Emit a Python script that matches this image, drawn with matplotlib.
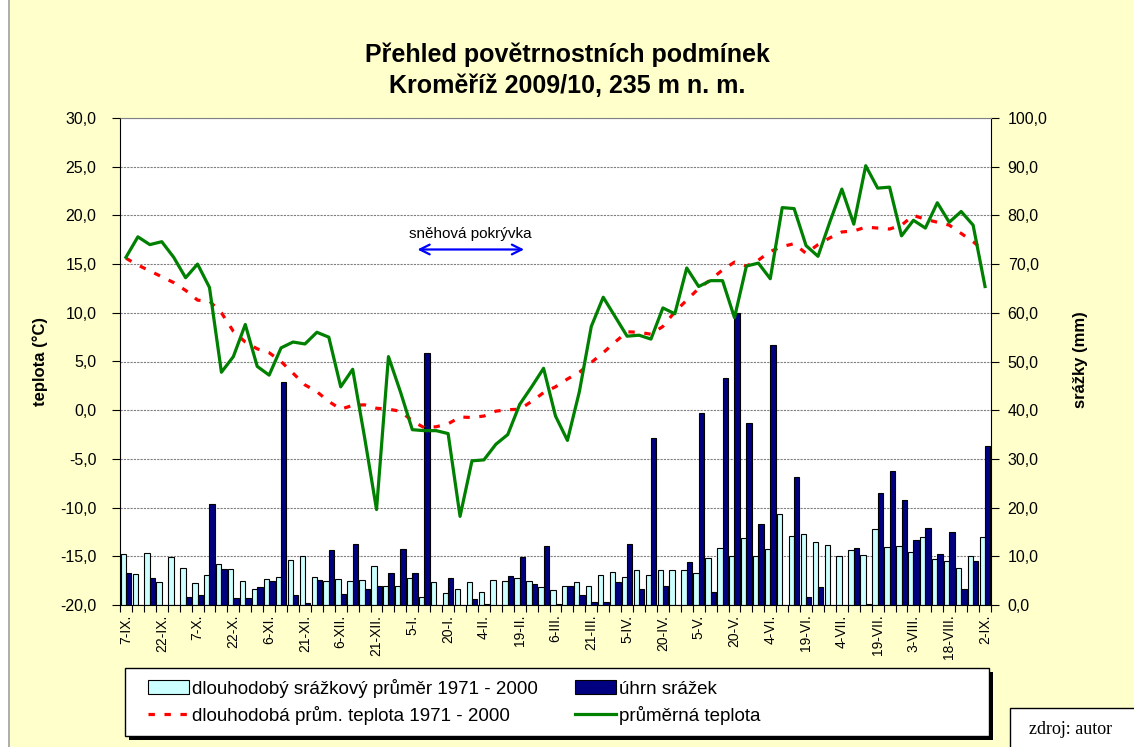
import numpy as np
import matplotlib
matplotlib.use('Agg')
import matplotlib.pyplot as plt
from matplotlib.patches import Rectangle, Patch
from matplotlib.lines import Line2D
from matplotlib.ticker import FixedLocator, FuncFormatter

plt.rcParams['font.family'] = ['Liberation Sans', 'DejaVu Sans']

# pentad labels (every third pentad is labelled)
tick_labels = ['7-IX.', '22-IX.', '7-X.', '22-X.', '6-XI.', '21-XI.', '6-XII.', '21-XII.',
               '5-I.', '20-I.', '4-II.', '19-II.', '6-III.', '21-III.', '5-IV.', '20-IV.',
               '5-V.', '20-V.', '4-VI.', '19-VI.', '4-VII.', '19-VII.', '3-VIII.', '18-VIII.', '2-IX.']

# long-term precipitation mean 1971-2000 (mm)
precip_norm = [10.5, 6.4, 10.6, 4.8, 9.8, 7.7, 4.5, 6.2, 8.5, 7.4,
               4.9, 3.2, 5.3, 5.8, 9.3, 10.1, 5.7, 5.0, 5.4, 5.0,
               5.2, 8.1, 4.0, 3.8, 5.5, 1.7, 4.7, 2.4, 3.2, 4.8,
               2.6, 5.2, 4.9, 5.6, 5.0, 3.6, 3.1, 3.9, 4.7, 3.9,
               6.2, 6.8, 5.7, 7.1, 6.1, 7.1, 7.1, 7.2, 6.6, 9.6,
               11.7, 10.0, 13.8, 10.1, 11.4, 18.7, 14.2, 14.5, 13.0, 12.3,
               10.1, 11.3, 10.3, 15.6, 11.9, 12.1, 10.8, 14.0, 9.4, 9.1,
               7.7, 10.1, 14.0]

# precipitation total (mm)
precip = [6.5, 0.0, 5.5, 0.0, 0.0, 1.6, 2.0, 20.8, 7.3, 1.4,
          1.5, 3.6, 4.9, 45.8, 2.1, 0.5, 5.1, 11.2, 2.2, 12.5,
          3.3, 4.0, 6.5, 11.6, 6.5, 51.8, 0.0, 5.6, 0.0, 1.2,
          0.2, 0.0, 6.0, 9.9, 4.4, 12.1, 0.2, 4.0, 2.1, 0.6,
          0.6, 4.7, 12.5, 3.3, 34.2, 4.0, 0.0, 8.8, 39.4, 2.7,
          46.6, 60.0, 37.3, 16.6, 53.4, 0.0, 26.2, 1.7, 3.7, 0.0,
          0.0, 11.8, 0.2, 23.1, 27.5, 21.5, 13.4, 15.9, 10.5, 15.0,
          3.2, 9.1, 32.6]

# mean temperature (°C)
temp = [15.7, 17.8, 17.0, 17.3, 15.7, 13.6, 15.0, 12.6, 3.9, 5.5,
        8.8, 4.5, 3.6, 6.4, 7.0, 6.8, 8.0, 7.5, 2.4, 4.2,
        -2.8, -10.2, 5.5, 1.9, -2.0, -2.1, -2.1, -2.4, -10.9, -5.2,
        -5.1, -3.5, -2.5, 0.6, 2.4, 4.3, -0.6, -3.1, 1.9, 8.6,
        11.6, 9.6, 7.6, 7.7, 7.3, 10.5, 9.9, 14.6, 12.7, 13.3,
        13.3, 9.5, 14.8, 15.1, 13.5, 20.8, 20.7, 16.9, 15.8, 19.35,
        22.7, 19.1, 25.1, 22.8, 22.9, 17.9, 19.5, 18.7, 21.3, 19.3,
        20.4, 19.0, 12.7]

# long-term mean temperature 1971-2000 (°C)
temp_norm = [15.6, 14.9, 14.3, 13.7, 13.1, 12.3, 11.3, 11.2, 10.0, 8.1,
             7.0, 6.3, 5.9, 5.0, 3.8, 2.6, 1.9, 0.9, 0.1, 0.5,
             0.55, 0.2, 0.1, -0.1, -1.1, -1.8, -1.7, -1.4, -0.7, -0.75,
             -0.6, -0.1, 0.05, 0.1, 0.9, 1.8, 2.4, 3.2, 3.9, 4.9,
             5.9, 7.0, 8.05, 8.0, 7.8, 8.6, 10.1, 11.3, 12.5, 13.4,
             14.4, 15.2, 14.8, 15.4, 16.3, 16.8, 17.1, 16.1, 17.0, 17.7,
             18.3, 18.4, 18.8, 18.7, 18.6, 19.0, 20.0, 19.6, 19.3, 19.0,
             18.15, 17.3, 16.3]

n = len(temp)
x = np.arange(n)
W, H = 1134, 747

comma = FuncFormatter(lambda v, p: f'{v:.1f}'.replace('.', ','))

fig = plt.figure(figsize=(W / 100, H / 100), dpi=100, facecolor='white')
fig.patches.append(Rectangle((9 / W, -0.05), 1.1, 1.1, transform=fig.transFigure,
                             facecolor='#FFFFCC', edgecolor='#A0A0A0', lw=1.2, zorder=-10))

# precipitation axis (bars, right scale)
ax = fig.add_axes([120 / W, 1 - 605 / H, 871 / W, 487 / H])
ax.set_facecolor('white')
ax.bar(x - 0.225, precip_norm, 0.45, color='#CCFFFF', edgecolor='black', lw=0.8)
ax.bar(x + 0.225, precip, 0.45, color='#000080', edgecolor='black', lw=0.8)
ax.set_xlim(-0.5, n - 0.5)
ax.set_ylim(0, 100)
ax.grid(axis='y', color='#808080', ls=(0, (2, 1)), lw=0.8)
ax.set_axisbelow(True)

ax.xaxis.set_major_locator(FixedLocator(np.arange(-0.5, n, 1)))
ax.xaxis.set_major_formatter(FuncFormatter(lambda v, p: ''))
ax.xaxis.set_minor_locator(FixedLocator(x[::3]))
ax.set_xticklabels(tick_labels, minor=True, rotation=90, fontsize=10)
ax.tick_params(axis='x', which='major', direction='out', length=5)
ax.tick_params(axis='x', which='minor', length=0, pad=7)
for s in ['left', 'right', 'bottom']:
    ax.spines[s].set_color('black')
ax.spines['top'].set_color('#808080')

# temperature axis (lines, left scale)
ax2 = ax.twinx()
ax.yaxis.tick_right()
ax.set_yticks(np.arange(0, 101, 10))
ax.yaxis.set_major_formatter(comma)
ax.tick_params(axis='y', direction='out', length=6, labelsize=11.5, pad=6)

ax2.yaxis.tick_left()
ax2.plot(x, temp_norm, color='#FF0000', lw=2.3, ls=(0, (2, 3)))
ax2.plot(x, temp, color='#008000', lw=2.3)
ax2.set_ylim(-20, 30)
ax2.set_yticks(np.arange(-20, 31, 5))
ax2.yaxis.set_major_formatter(comma)
ax2.tick_params(axis='y', direction='out', length=6, labelsize=11.5, pad=11)
for s in ax2.spines.values():
    s.set_visible(False)

# snow cover
ax2.annotate('', xy=(33.6, 16.5), xytext=(24.2, 16.5),
             arrowprops=dict(arrowstyle='<->,head_length=0.7,head_width=0.35', color='#0000FF', lw=1.6))
ax2.text(28.9, 17.4, 'sněhová pokrývka', ha='center', va='bottom', fontsize=11)

# titles and axis labels
fig.text(0.5, 1 - 55 / H, 'Přehled povětrnostních podmínek', ha='center', va='center',
         fontsize=18, weight='bold')
fig.text(0.5, 1 - 86 / H, 'Kroměříž 2009/10, 235 m n. m.', ha='center', va='center',
         fontsize=18, weight='bold')
fig.text(40 / W, 1 - 362 / H, 'teplota (°C)', rotation=90, ha='center', va='center',
         fontsize=12, weight='bold')
fig.text(1080 / W, 1 - 360 / H, 'srážky (mm)', rotation=90, ha='center', va='center',
         fontsize=12, weight='bold')

# legend box with shadow
fig.patches.append(Rectangle((129 / W, 1 - 740 / H), 864 / W, 68 / H, transform=fig.transFigure,
                             facecolor='black', edgecolor='none', zorder=5))
fig.patches.append(Rectangle((125 / W, 1 - 736 / H), 864 / W, 68 / H, transform=fig.transFigure,
                             facecolor='white', edgecolor='black', lw=1, zorder=6))
handles = [Patch(facecolor='#CCFFFF', edgecolor='black', lw=0.8),
           Line2D([], [], color='#FF0000', lw=2.3, ls=(0, (2, 3))),
           Patch(facecolor='#000080', edgecolor='black', lw=0.8),
           Line2D([], [], color='#008000', lw=2.3)]
names = ['dlouhodobý srážkový průměr 1971 - 2000', 'dlouhodobá prům. teplota 1971 - 2000',
         'úhrn srážek', 'průměrná teplota']
leg = fig.legend(handles, names, ncol=2, loc='upper left', bbox_to_anchor=(140 / W, 1 - 671 / H),
                 frameon=False, fontsize=13.5, handlelength=2.2, handleheight=0.7,
                 handletextpad=0.15, columnspacing=2.0, labelspacing=0.45, borderaxespad=0)
leg.set_zorder(7)

# source box
fig.patches.append(Rectangle((1010 / W, -0.05), 0.2, 0.05 + (747 - 708) / H, transform=fig.transFigure,
                             facecolor='white', edgecolor='black', lw=1, zorder=5))
fig.text(1071 / W, 1 - 729 / H, 'zdroj: autor', ha='center', va='center', fontsize=13,
         family=['Liberation Serif', 'DejaVu Serif'], zorder=6)

fig.savefig('out.png', dpi=100, facecolor=fig.get_facecolor())
